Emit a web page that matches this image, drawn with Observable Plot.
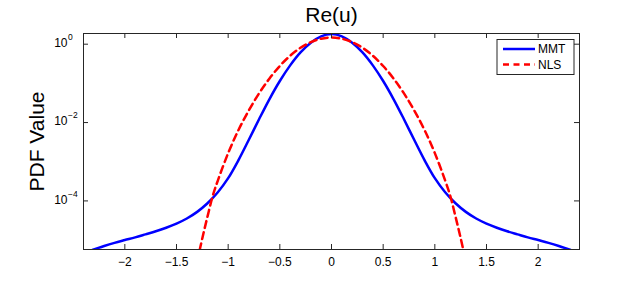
<!DOCTYPE html>
<html><head><meta charset="utf-8">
<script src="https://cdn.jsdelivr.net/npm/d3@7"></script>
<script src="https://cdn.jsdelivr.net/npm/@observablehq/plot@0.6"></script>
<style>body{margin:0;background:#fff} svg{display:block}</style>
</head><body><div id="chart"></div>
<script>
const title = "Re(u)";
const yLabel = "PDF Value";
const seriesNames = ["MMT", "NLS"];
const seriesColors = ["#0000ff", "#ff0000"];

const mmtX = [-2.4, -2.3, -2.2, -2.1, -2.0, -1.9, -1.8, -1.7, -1.6, -1.5, -1.4, -1.3, -1.2, -1.1, -1.0, -0.9, -0.8, -0.7, -0.6, -0.5, -0.4, -0.3, -0.2, -0.1, 0,
  0.1, 0.2, 0.3, 0.4, 0.5, 0.6, 0.7, 0.8, 0.9, 1.0, 1.1, 1.2, 1.3, 1.4, 1.5, 1.6, 1.7, 1.8, 1.9, 2.0, 2.1, 2.2, 2.3, 2.4];
const mmtY = [4.57e-6, 5.75e-6, 7.08e-6, 8.51e-6, 1.0e-5, 1.17e-5, 1.40e-5, 1.68e-5, 2.07e-5, 2.63e-5, 3.55e-5, 5.25e-5, 8.71e-5, 1.66e-4, 3.80e-4, 1.10e-3, 3.63e-3, 0.0123, 0.0398, 0.1148, 0.288, 0.617, 1.096, 1.585, 1.811,
  1.585, 1.096, 0.617, 0.288, 0.1148, 0.0398, 0.0123, 3.63e-3, 1.10e-3, 3.80e-4, 1.66e-4, 8.71e-5, 5.25e-5, 3.55e-5, 2.63e-5, 2.07e-5, 1.68e-5, 1.40e-5, 1.17e-5, 1.0e-5, 8.51e-6, 7.08e-6, 5.75e-6, 4.57e-6];

const nlsX = [-1.3, -1.25, -1.2, -1.15, -1.1, -1.0, -0.9, -0.8, -0.7, -0.6, -0.5, -0.4, -0.3, -0.2, -0.1, 0,
  0.1, 0.2, 0.3, 0.4, 0.5, 0.6, 0.7, 0.8, 0.9, 1.0, 1.1, 1.15, 1.2, 1.25, 1.3];
const nlsY = [2.82e-6, 1.12e-5, 3.98e-5, 1.32e-4, 3.31e-4, 1.66e-3, 6.46e-3, 0.0204, 0.0562, 0.1334, 0.278, 0.507, 0.809, 1.130, 1.380, 1.479,
  1.380, 1.130, 0.809, 0.507, 0.278, 0.1334, 0.0562, 0.0204, 6.46e-3, 1.66e-3, 3.31e-4, 1.32e-4, 3.98e-5, 1.12e-5, 2.82e-6];

const xTicks = [-2, -1.5, -1, -0.5, 0, 0.5, 1, 1.5, 2];
const yTicks = [1, 1e-2, 1e-4];
const yTickBase = ["10", "10", "10"];
const yTickExp = ["0", "\u22122", "\u22124"];

const mmt = mmtX.map((x, i) => ({x, y: mmtY[i]}));
const nls = nlsX.map((x, i) => ({x, y: nlsY[i]}));

const font = "'Liberation Sans', Arial, Helvetica, sans-serif";
const W = 640, H = 281, ml = 83, mr = 61, mt = 33, mb = 32;
const iw = W - ml - mr, ih = H - mt - mb;
const tk = 5;
const axisColor = "#262626";

const chart = Plot.plot({
  width: W, height: H,
  marginLeft: ml, marginRight: mr, marginTop: mt, marginBottom: mb,
  style: {fontFamily: font, fontSize: "12px", color: "#000", background: "#fff"},
  x: {domain: [-2.4, 2.4], axis: null},
  y: {type: "log", domain: [5.75e-6, 1.875], axis: null},
  marks: [
    Plot.line(mmt, {x: "x", y: "y", stroke: seriesColors[0], strokeWidth: 2.5, curve: "catmull-rom", clip: true}),
    Plot.line(nls, {x: "x", y: "y", stroke: seriesColors[1], strokeWidth: 2.5, strokeDasharray: "7,4.5", curve: "catmull-rom", clip: true}),
    Plot.frame({stroke: axisColor, strokeWidth: 1}),
    Plot.tickX(xTicks, {x: d => d, insetTop: ih - tk, stroke: axisColor}),
    Plot.tickX(xTicks, {x: d => d, insetBottom: ih - tk, stroke: axisColor}),
    Plot.tickY(yTicks, {y: d => d, insetRight: iw - tk, stroke: axisColor}),
    Plot.tickY(yTicks, {y: d => d, insetLeft: iw - tk, stroke: axisColor}),
    Plot.text(xTicks, {x: d => d, frameAnchor: "bottom", lineAnchor: "middle", dy: 13, text: d => d3.format("")(d), fontSize: 12, fill: "#000"}),
    Plot.text(yTicks, {y: d => d, frameAnchor: "left", lineAnchor: "middle", dx: -16, dy: -1, text: (d, i) => yTickBase[i], textAnchor: "end", fontSize: 12, fill: "#000"}),
    Plot.text(yTicks, {y: d => d, frameAnchor: "left", lineAnchor: "middle", dx: -15.5, dy: -7, text: (d, i) => yTickExp[i], textAnchor: "start", fontSize: 8.5, fill: "#000"}),
    Plot.text([title], {frameAnchor: "top", lineAnchor: "middle", dy: -18, text: d => d, fontSize: 21, fill: "#000"}),
    Plot.text([yLabel], {frameAnchor: "left", lineAnchor: "middle", textAnchor: "middle", dx: -46, text: d => d, rotate: -90, fontSize: 21, fill: "#000"})
  ]
});

// legend drawn inside the SVG with d3
const svg = d3.select(chart);
const lg = svg.append("g").attr("font-family", font).attr("font-size", 12).attr("text-anchor", "start");
const lx = 497, ly = 39.5, lw = 77, lh = 35;
lg.append("rect").attr("x", lx).attr("y", ly).attr("width", lw).attr("height", lh)
  .attr("fill", "#fff").attr("stroke", axisColor).attr("stroke-width", 1);
seriesNames.forEach((name, i) => {
  const yy = ly + 9.5 + i * 15.5;
  lg.append("line").attr("x1", lx + 6).attr("x2", lx + 38).attr("y1", yy).attr("y2", yy)
    .attr("stroke", seriesColors[i]).attr("stroke-width", 2.5)
    .attr("stroke-dasharray", i === 1 ? "6,4.5" : null);
  lg.append("text").attr("x", lx + 41).attr("y", yy).attr("dy", "0.35em").attr("text-anchor", "start").text(name);
});

document.getElementById("chart").appendChild(chart);
</script>
</body></html>
